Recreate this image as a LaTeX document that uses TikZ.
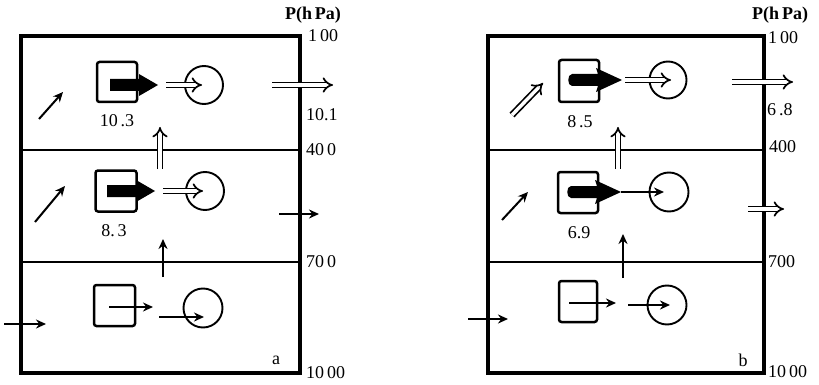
\documentclass[tikz,border=0pt]{standalone}
\usepackage{fontspec}
\setmainfont{Liberation Serif}
\usetikzlibrary{arrows.meta}
\tikzset{
  frameline/.style={line width=3.2pt},
  divline/.style={line width=1.9pt},
  sq/.style={draw, line width=2.5pt, rounded corners=2.5pt, inner sep=0pt},
  circ/.style={draw, circle, line width=1.9pt, inner sep=0pt},
  arr/.style={line width=2pt, -{Stealth[length=10pt,width=9pt]}},
  darr/.style={double, double distance=3.4pt, line width=1.7pt, -{Implies[scale=1.25]}},
  lbl/.style={font=\fontsize{18}{18}\selectfont, inner sep=0pt, anchor=west},
  num/.style={font=\fontsize{18}{18}\selectfont, inner sep=0pt},
  ptitle/.style={font=\fontsize{18}{18}\selectfont\bfseries, inner sep=0pt},
  fatL/.pic={\fill (0,-6) -- (29,-6) -- (29,-11) -- (48,0) -- (29,11) -- (29,6) -- (0,6) -- cycle;},
  fatR/.pic={\fill (4,-6) -- (30,-6) -- (28,-12) -- (54,0) -- (28,12) -- (30,6) -- (4,6)
      .. controls (-1,6) and (-1,-6) .. (4,-6) -- cycle;}
}
\begin{document}
\begin{tikzpicture}[x=1pt,y=-1pt]
\useasboundingbox (0,0) rectangle (819,385);

% ================= panel a =================
\draw[frameline] (21,36) rectangle (300,373);
\draw[divline] (21,150) -- (300,150);
\draw[divline] (21,262) -- (300,262);

% top layer
\node[sq, minimum width=40pt, minimum height=40pt] (aTs) at (117,82) {};
\pic at (110,85) {fatL};
\node[circ, minimum size=38pt] (aTc) at (204,85) {};
\coordinate (aTd1) at (166,85); \coordinate (aTd2) at (202,85);
\draw[darr] (aTd1) -- (aTd2);
\coordinate (aTg1) at (39,119); \coordinate (aTg2) at (63,92);
\draw[arr] (aTg1) -- (aTg2);
\coordinate (aTr1) at (272,85); \coordinate (aTr2) at (333,85);
\draw[darr] (aTr1) -- (aTr2);
\coordinate (aTv1) at (160,169); \coordinate (aTv2) at (160,127);
\draw[darr] (aTv1) -- (aTv2);
\node[num] (aTn) at (117,121) {10\,.3};

% middle layer
\node[sq, minimum width=41pt, minimum height=41pt] (aMs) at (116,191) {};
\pic at (107,191) {fatL};
\node[circ, minimum size=38pt] (aMc) at (205,191) {};
\coordinate (aMd1) at (163,191); \coordinate (aMd2) at (203,191);
\draw[darr] (aMd1) -- (aMd2);
\coordinate (aMg1) at (35,222); \coordinate (aMg2) at (65,186);
\draw[arr] (aMg1) -- (aMg2);
\coordinate (aMr1) at (279,214); \coordinate (aMr2) at (319,214);
\draw[arr] (aMr1) -- (aMr2);
\coordinate (aMv1) at (163,277); \coordinate (aMv2) at (163,239);
\draw[arr] (aMv1) -- (aMv2);
\node[num] (aMn) at (114,231) {8.\,3};

% bottom layer
\node[sq, minimum width=41pt, minimum height=41pt] (aBs) at (114.5,305.5) {};
\node[circ, minimum size=39pt] (aBc) at (203,308) {};
\coordinate (aBa1) at (109,307); \coordinate (aBa2) at (153,307);
\draw[arr] (aBa1) -- (aBa2);
\coordinate (aBb1) at (159,317); \coordinate (aBb2) at (204,317);
\draw[arr] (aBb1) -- (aBb2);
\coordinate (aBl1) at (4,324); \coordinate (aBl2) at (46,324);
\draw[arr] (aBl1) -- (aBl2);

% labels a
\node[ptitle] (aP) at (313,15) {P(h\,Pa)};
\node[lbl] (a100) at (308,36) {1\,00};
\node[lbl] (a101) at (306,115) {10.1};
\node[lbl] (a400) at (306,150) {40\,0};
\node[lbl] (a700) at (306,262) {70\,0};
\node[lbl] (a1000) at (306,373) {10\,00};
\node[num] (aa) at (276,360) {a};

% ================= panel b =================
\draw[frameline] (488,36) rectangle (764,373);
\draw[divline] (488,150) -- (764,150);
\draw[divline] (488,262) -- (764,262);

% top layer
\node[sq, minimum width=40pt, minimum height=42pt] (bTs) at (579,81) {};
\pic at (568,80) {fatR};
\node[circ, minimum size=37pt] (bTc) at (668,80) {};
\coordinate (bTd1) at (625,80); \coordinate (bTd2) at (671,80);
\draw[darr] (bTd1) -- (bTd2);
\coordinate (bTg1) at (512,115); \coordinate (bTg2) at (543,83);
\draw[darr] (bTg1) -- (bTg2);
\coordinate (bTr1) at (732,82); \coordinate (bTr2) at (793,82);
\draw[darr] (bTr1) -- (bTr2);
\coordinate (bTv1) at (618,169); \coordinate (bTv2) at (618,127);
\draw[darr] (bTv1) -- (bTv2);
\node[num] (bTn) at (580,122) {8\,.5};

% middle layer
\node[sq, minimum width=40pt, minimum height=41pt] (bMs) at (578,192.5) {};
\pic at (567,192) {fatR};
\node[circ, minimum size=39pt] (bMc) at (669,192) {};
\coordinate (bMd1) at (621,192); \coordinate (bMd2) at (664,192);
\draw[arr] (bMd1) -- (bMd2);
\coordinate (bMg1) at (502,220); \coordinate (bMg2) at (528,192);
\draw[arr] (bMg1) -- (bMg2);
\coordinate (bMr1) at (748,209); \coordinate (bMr2) at (784,209);
\draw[darr] (bMr1) -- (bMr2);
\coordinate (bMv1) at (623,278); \coordinate (bMv2) at (623,234);
\draw[arr] (bMv1) -- (bMv2);
\node[num] (bMn) at (579,233) {6.9};

% bottom layer
\node[sq, minimum width=38pt, minimum height=41pt] (bBs) at (578,301.5) {};
\node[circ, minimum size=39pt] (bBc) at (667,305) {};
\coordinate (bBa1) at (569,303); \coordinate (bBa2) at (616,303);
\draw[arr] (bBa1) -- (bBa2);
\coordinate (bBb1) at (628,305); \coordinate (bBb2) at (670,305);
\draw[arr] (bBb1) -- (bBb2);
\coordinate (bBl1) at (468,319); \coordinate (bBl2) at (508,319);
\draw[arr] (bBl1) -- (bBl2);

% labels b
\node[ptitle] (bP) at (780,15) {P(h\,Pa)};
\node[lbl] (b100) at (768,38) {1\,00};
\node[lbl] (b68) at (767,110) {6\,.8};
\node[lbl] (b400) at (769,147) {400};
\node[lbl] (b700) at (768,262) {700};
\node[lbl] (b1000) at (768,372) {10\,00};
\node[num] (bb) at (743,360) {b};
\end{tikzpicture}
\end{document}
